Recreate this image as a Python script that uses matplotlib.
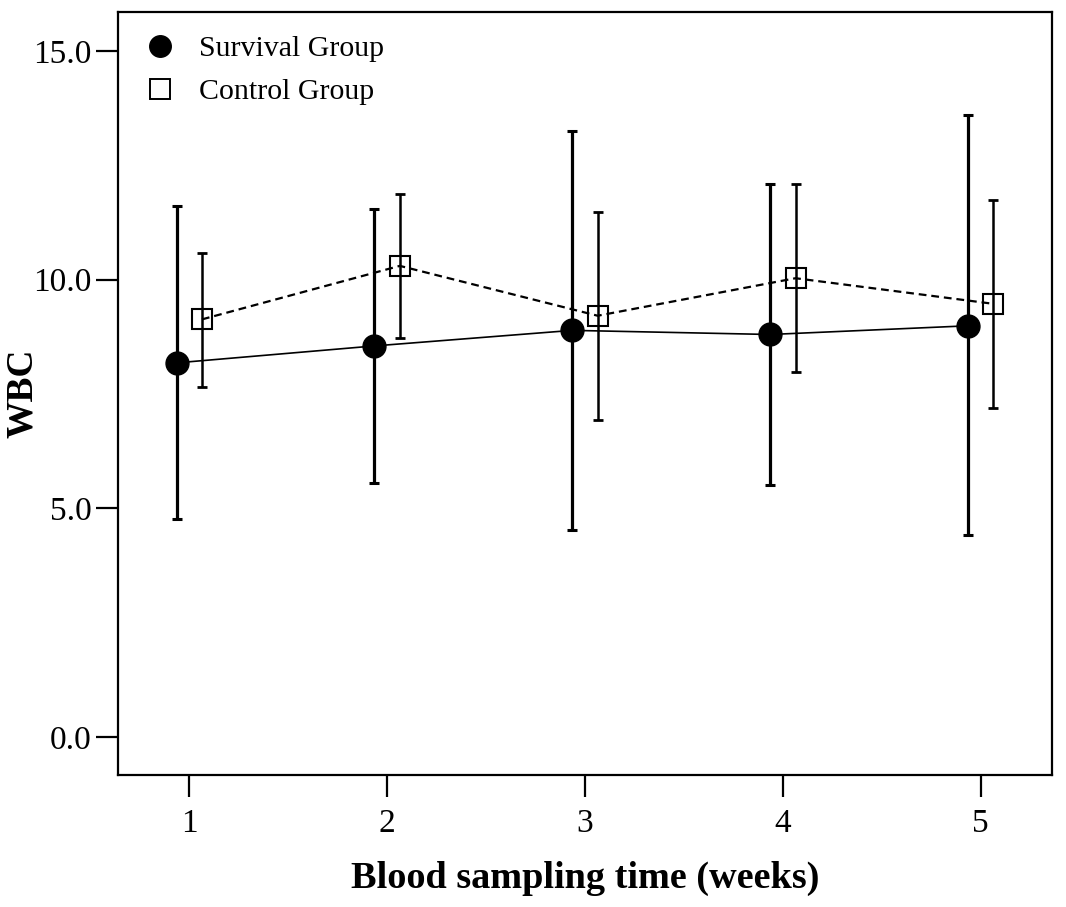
import matplotlib
matplotlib.use("Agg")
import matplotlib.pyplot as plt
from matplotlib.lines import Line2D
import numpy as np

weeks = [1, 2, 3, 4, 5]
survival_mean = [8.18, 8.55, 8.89, 8.80, 8.99]
survival_low = [4.76, 5.55, 4.53, 5.51, 4.42]
survival_high = [11.61, 11.55, 13.24, 12.08, 13.59]
control_mean = [9.13, 10.30, 9.21, 10.03, 9.47]
control_low = [7.66, 8.72, 6.93, 7.98, 7.19]
control_high = [10.59, 11.87, 11.47, 12.08, 11.74]
yticks = [0.0, 5.0, 10.0, 15.0]

plt.rcParams['font.family'] = ['Liberation Serif', 'DejaVu Serif']

fig = plt.figure(figsize=(10.66, 9.07), dpi=100)
ax = fig.add_axes([0.1107, 0.1455, 0.8762, 0.8413])

off = 0.064
xs = np.array(weeks) - off
xc = np.array(weeks) + off
sm = np.array(survival_mean); cm = np.array(control_mean)

ax.plot(xs, sm, color='black', lw=1.2, zorder=2)
ax.plot(xc, cm, color='black', lw=1.6, ls=(0, (3.5, 2.2)), zorder=2)

ax.errorbar(xs, sm, yerr=[sm - np.array(survival_low), np.array(survival_high) - sm],
            fmt='none', ecolor='black', elinewidth=2.3, capsize=3.5, capthick=2.2, zorder=3)
ax.errorbar(xc, cm, yerr=[cm - np.array(control_low), np.array(control_high) - cm],
            fmt='none', ecolor='black', elinewidth=1.8, capsize=3.5, capthick=2.0, zorder=3)

ax.plot(xs, sm, ls='none', marker='o', ms=16.5, mfc='black', mec='black', zorder=4)
ax.plot(xc, cm, ls='none', marker='s', ms=14.5, mfc='none', mec='black', mew=1.5, zorder=4)

ax.set_xlim(0.64, 5.36)
ax.set_ylim(-0.83, 15.85)
ax.set_xticks(weeks)
ax.set_xticklabels([str(w) for w in weeks])
ax.set_yticks(yticks)
ax.set_yticklabels([f"{v:.1f}" for v in yticks])
ax.tick_params(axis='both', direction='out', length=16, width=1.6, labelsize=24, pad=3)
ax.tick_params(axis='x', pad=8)
for s in ax.spines.values():
    s.set_linewidth(1.6)

ax.set_xlabel('Blood sampling time (weeks)', fontsize=27.5, fontweight='bold', labelpad=16)
ax.set_ylabel('WBC', fontsize=27, fontweight='bold')
ax.yaxis.set_label_coords(-0.0835, 0.5)

handles = [Line2D([], [], ls='none', marker='o', ms=15.5, mfc='black', mec='black'),
           Line2D([], [], ls='none', marker='s', ms=15, mfc='none', mec='black', mew=1.4)]
ax.legend(handles, ['Survival Group', 'Control Group'], loc='upper left', frameon=False,
          fontsize=21.5, handlelength=0.8, handletextpad=0.9, labelspacing=0.55,
          borderaxespad=0.3, bbox_to_anchor=(0.010, 0.997))

fig.savefig('out.png', dpi=100)
